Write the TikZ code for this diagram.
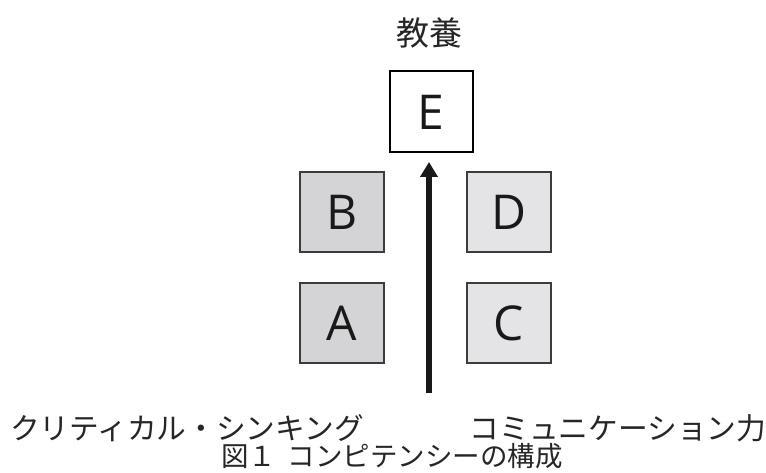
\documentclass[tikz,border=0pt]{standalone}
\usepackage{fontspec}
\setmainfont{Open Sans}
\newfontfamily\jp{Noto Sans CJK JP}
\usetikzlibrary{arrows.meta}
\definecolor{darkfill}{HTML}{D4D4D6}
\definecolor{lightfill}{HTML}{E4E4E6}
\definecolor{boxline}{HTML}{3C3C3C}
\tikzset{
  letterbox/.style={draw=boxline, line width=1.4pt, minimum width=84pt, minimum height=80pt, inner sep=0pt, font=\fontsize{48}{52}\selectfont, text=black!90},
  topbox/.style={draw=black, line width=2pt, minimum width=83pt, minimum height=81pt, inner sep=0pt, font=\fontsize{48}{52}\selectfont, text=black!90},
  jplabel/.style={font=\jp\fontsize{29.7}{32}\selectfont, text=black!85, inner sep=0pt},
  caption/.style={font=\jp\fontsize{27.5}{30}\selectfont, text=black!85, inner sep=0pt},
  bigarrow/.style={line width=5.5pt, -{Triangle[width=17pt,length=15pt]}, black!90}
}
\begin{document}
\begin{tikzpicture}[x=1pt,y=1pt]
\useasboundingbox (0,0) rectangle (766,-473);
\node[jplabel, font=\jp\fontsize{33}{36}\selectfont] (title) at (429,-33) {教養};
\node[topbox] (E) at (431,-112) {E};
\node[letterbox, fill=darkfill] (B) at (342,-212) {B};
\node[letterbox, fill=lightfill] (D) at (509,-212) {D};
\node[letterbox, fill=darkfill] (A) at (342,-323) {A};
\node[letterbox, fill=lightfill] (C) at (509,-323) {C};
\coordinate (start) at (429,-393);
\coordinate (tip) at (429,-162);
\draw[bigarrow] (start) -- (tip);
\node[jplabel] (ct) at (187,-428) {クリティカル・シンキング};
\node[jplabel] (cm) at (618,-428) {コミュニケーション力};
\node[caption] (cap) at (392,-456) {図１\hspace{12pt}コンピテンシーの構成};
\end{tikzpicture}
\end{document}
